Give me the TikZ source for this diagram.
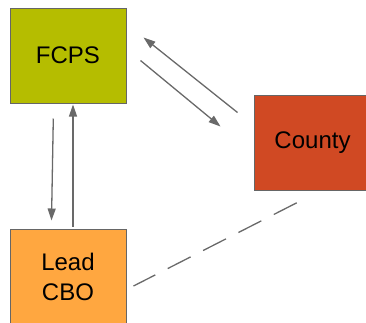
\documentclass[tikz,border=0pt]{standalone}
\usepackage{fontspec}
\setmainfont{Liberation Sans}
\usetikzlibrary{arrows.meta}
\definecolor{fcpsc}{RGB}{181,189,0}
\definecolor{countyc}{RGB}{208,73,35}
\definecolor{leadc}{RGB}{255,167,64}
\definecolor{edgec}{RGB}{102,102,102}
\definecolor{linec}{RGB}{105,105,105}
\begin{document}
\begin{tikzpicture}[x=1pt,y=-1pt,
  box/.style={draw=edgec,line width=1pt,minimum width=116pt,minimum height=95pt,inner sep=0pt,align=center,font=\fontsize{24}{30}\selectfont},
  conn/.style={draw=linec,line width=1.3pt,-{Triangle[length=12pt,width=8pt]}},
  dashconn/.style={draw=linec,line width=1.3pt,dash pattern=on 25.7pt off 14pt}]
\useasboundingbox (0,0) rectangle (366,322);
\clip (0,0) rectangle (366,322);
\node[box,fill=fcpsc] (fcps) at (68,55.5) {FCPS};
\node[box,fill=countyc] (county) at (312.5,142.5) {County};
\node[box,fill=leadc] (lead) at (68,276.5) {Lead\\CBO};
\coordinate (c1s) at ([shift={(-16.5,18)}]county.north west);
\coordinate (f1e) at ([shift={(-33.5,32)}]county.north west);
\coordinate (c1e) at ([shift={(17,30)}]fcps.north east);
\coordinate (f1s) at ([shift={(14,53)}]fcps.north east);
\coordinate (f2s) at ([shift={(-14.7,15)}]fcps.south);
\coordinate (l1e) at ([shift={(5,1)}]fcps.south);
\coordinate (f2e) at ([shift={(-16.5,-8)}]lead.north);
\coordinate (l1s) at ([shift={(5,-2)}]lead.north);
\coordinate (d1s) at ([shift={(-15.8,12.3)}]county.south);
\coordinate (d1e) at ([shift={(7,9.5)}]lead.east);
\draw[conn] (c1s) -- (c1e);
\draw[conn] (f1s) -- (f1e);
\draw[conn] (f2s) -- (f2e);
\draw[conn] (l1s) -- (l1e);
\draw[dashconn] (d1s) -- (d1e);
\end{tikzpicture}
\end{document}
